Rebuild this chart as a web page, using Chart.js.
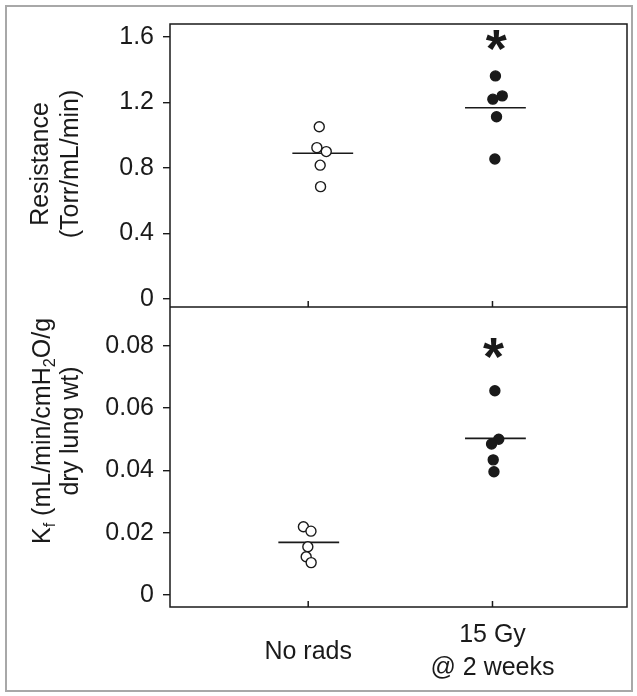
<!DOCTYPE html>
<html lang="en">
<head>
<meta charset="UTF-8">
<title>Resistance and Kf after 15 Gy</title>
<script src="https://cdn.jsdelivr.net/npm/chart.js@4.4.1/dist/chart.umd.min.js"></script>
<style>
  body { margin: 0; background: #fff; }
  canvas { display: block; }
</style>
</head>
<body>
<canvas id="chart" width="637" height="696"></canvas>
<script>
// x axis groups (1 = No rads, 2 = 15 Gy)
const groups = ['No rads', ['15 Gy', '@ 2 weeks']];
const groupX = [1, 2];

// Resistance (Torr/mL/min) - x holds the small horizontal scatter of each animal
const resNoRadsX = [1.060, 1.047, 1.098, 1.065, 1.067];
const resNoRads  = [1.052, 0.924, 0.900, 0.817, 0.686];
const resGyX     = [2.016, 2.002, 2.053, 2.022, 2.013];
const resGy      = [1.362, 1.220, 1.240, 1.113, 0.855];
const resMeanX   = [1.079, 2.016];
const resMeans   = [0.890, 1.168];
const resTicks   = [0, 0.4, 0.8, 1.2, 1.6];
const resStar    = [2.02, 1.577];

// Kf (mL/min/cmH2O/g dry lung wt)
const kfNoRadsX = [0.974, 1.015, 0.998, 0.989, 1.016];
const kfNoRads  = [0.0219, 0.0205, 0.0155, 0.0123, 0.0104];
const kfGyX     = [2.013, 2.034, 1.995, 2.004, 2.008];
const kfGy      = [0.0656, 0.0500, 0.0485, 0.0434, 0.0396];
const kfMeanX   = [1.003, 2.016];
const kfMeans   = [0.0169, 0.0503];
const kfTicks   = [0, 0.02, 0.04, 0.06, 0.08];
const kfStar    = [2.005, 0.0793];

// axis titles, pieces marked sub are subscripts
const resTitle = [[{t: 'Resistance'}], [{t: '(Torr/mL/min)'}]];
const kfTitle = [
    [{t: 'K'}, {t: 'f', sub: true}, {t: ' (mL/min/cmH'}, {t: '2', sub: true}, {t: 'O/g'}],
    [{t: 'dry lung wt)'}]
];

const FONT = 'Arial, "Liberation Sans", sans-serif';
const INK = '#1a1a1a';
const MEAN_HALF = 0.165;

function pts(xs, ys) {
    return ys.map((y, i) => ({x: xs[i], y: y}));
}

function meanLine(x, y, axis) {
    return {
        type: 'scatter',
        data: [{x: x - MEAN_HALF, y: y}, {x: x + MEAN_HALF, y: y}],
        yAxisID: axis,
        showLine: true,
        borderColor: INK,
        borderWidth: 1.6,
        pointRadius: 0
    };
}

function dots(xs, ys, axis, fill) {
    return {
        type: 'scatter',
        data: pts(xs, ys),
        yAxisID: axis,
        backgroundColor: fill,
        borderColor: INK,
        borderWidth: 1.4,
        pointRadius: 5,
        pointHoverRadius: 5
    };
}

function yScale(ticks, min, max, weight) {
    return {
        type: 'linear',
        position: 'left',
        stack: 'panels',
        stackWeight: weight,
        min: min,
        max: max,
        afterBuildTicks: s => { s.ticks = ticks.map(v => ({value: v})); },
        afterFit: s => { s.width = 80; },
        border: {display: false},
        grid: {drawOnChartArea: false, drawTicks: true, tickLength: 7, color: INK, lineWidth: 1.4},
        ticks: {
            font: {family: FONT, size: 25},
            color: INK,
            padding: 9,
            callback: v => String(v)
        }
    };
}

// white page, grey outer border
const page = {
    id: 'page',
    beforeDraw(chart) {
        const ctx = chart.ctx;
        ctx.save();
        ctx.fillStyle = '#fff';
        ctx.fillRect(0, 0, chart.width, chart.height);
        ctx.strokeStyle = '#a8a8a8';
        ctx.lineWidth = 2;
        ctx.strokeRect(6, 6, chart.width - 11, chart.height - 11);
        ctx.restore();
    }
};

function drawRich(ctx, parts, cx, cy, size) {
    const subSize = size * 0.65;
    let w = 0;
    parts.forEach(p => {
        ctx.font = (p.sub ? subSize : size) + 'px ' + FONT;
        w += ctx.measureText(p.t).width;
    });
    ctx.save();
    ctx.translate(cx, cy);
    ctx.rotate(-Math.PI / 2);
    ctx.textBaseline = 'middle';
    ctx.textAlign = 'left';
    let x = -w / 2;
    parts.forEach(p => {
        ctx.font = (p.sub ? subSize : size) + 'px ' + FONT;
        ctx.fillText(p.t, x, p.sub ? size * 0.3 : 0);
        x += ctx.measureText(p.t).width;
    });
    ctx.restore();
}

// frame, inner x ticks, asterisks and axis titles
const decor = {
    id: 'decor',
    afterDraw(chart) {
        const ctx = chart.ctx;
        const a = chart.chartArea;
        const x = chart.scales.x;
        const yTop = chart.scales.yTop;
        const yBot = chart.scales.yBot;
        ctx.save();
        ctx.strokeStyle = INK;
        ctx.lineWidth = 1.5;
        ctx.strokeRect(a.left, a.top, a.right - a.left, a.bottom - a.top);
        ctx.beginPath();
        ctx.moveTo(a.left, yTop.bottom);
        ctx.lineTo(a.right, yTop.bottom);
        groupX.forEach(g => {
            const px = x.getPixelForValue(g);
            ctx.moveTo(px, yTop.bottom);
            ctx.lineTo(px, yTop.bottom - 6);
            ctx.moveTo(px, a.bottom);
            ctx.lineTo(px, a.bottom - 6);
        });
        ctx.stroke();

        ctx.fillStyle = INK;
        ctx.font = 'bold 54px ' + FONT;
        ctx.textAlign = 'center';
        ctx.textBaseline = 'alphabetic';
        const m = ctx.measureText('*');
        const mid = (m.actualBoundingBoxAscent - m.actualBoundingBoxDescent) / 2;
        [[resStar, yTop], [kfStar, yBot]].forEach(([s, sc]) => {
            ctx.fillText('*', x.getPixelForValue(s[0]), sc.getPixelForValue(s[1]) + mid);
        });

        drawRich(ctx, resTitle[0], 41, 164, 25);
        drawRich(ctx, resTitle[1], 71, 164, 25);
        drawRich(ctx, kfTitle[0], 43, 431, 25);
        drawRich(ctx, kfTitle[1], 71, 431, 25);
        ctx.restore();
    }
};

new Chart(document.getElementById('chart'), {
    type: 'scatter',
    data: {
        datasets: [
            dots(resNoRadsX, resNoRads, 'yTop', '#fff'),
            dots(resGyX, resGy, 'yTop', INK),
            dots(kfNoRadsX, kfNoRads, 'yBot', '#fff'),
            dots(kfGyX, kfGy, 'yBot', INK),
            meanLine(resMeanX[0], resMeans[0], 'yTop'),
            meanLine(resMeanX[1], resMeans[1], 'yTop'),
            meanLine(kfMeanX[0], kfMeans[0], 'yBot'),
            meanLine(kfMeanX[1], kfMeans[1], 'yBot')
        ]
    },
    options: {
        responsive: false,
        animation: false,
        devicePixelRatio: 1,
        layout: {padding: {left: 90, top: 24, right: 10, bottom: 0}},
        plugins: {legend: {display: false}, tooltip: {enabled: false}},
        scales: {
            x: {
                type: 'linear',
                position: 'bottom',
                min: 0.25,
                max: 2.73,
                afterBuildTicks: s => { s.ticks = groupX.map(v => ({value: v})); },
                afterFit: s => { s.height = 89; },
                border: {display: false},
                grid: {display: false},
                ticks: {
                    font: {family: FONT, size: 25, lineHeight: 1.34},
                    color: INK,
                    padding: 20,
                    crossAlign: 'center',
                    maxRotation: 0,
                    callback: (v, i) => groups[i]
                }
            },
            yBot: yScale(kfTicks, -0.00386, 0.0925, 300),
            yTop: yScale(resTicks, -0.049, 1.679, 283)
        }
    },
    plugins: [page, decor]
});
</script>
</body>
</html>
